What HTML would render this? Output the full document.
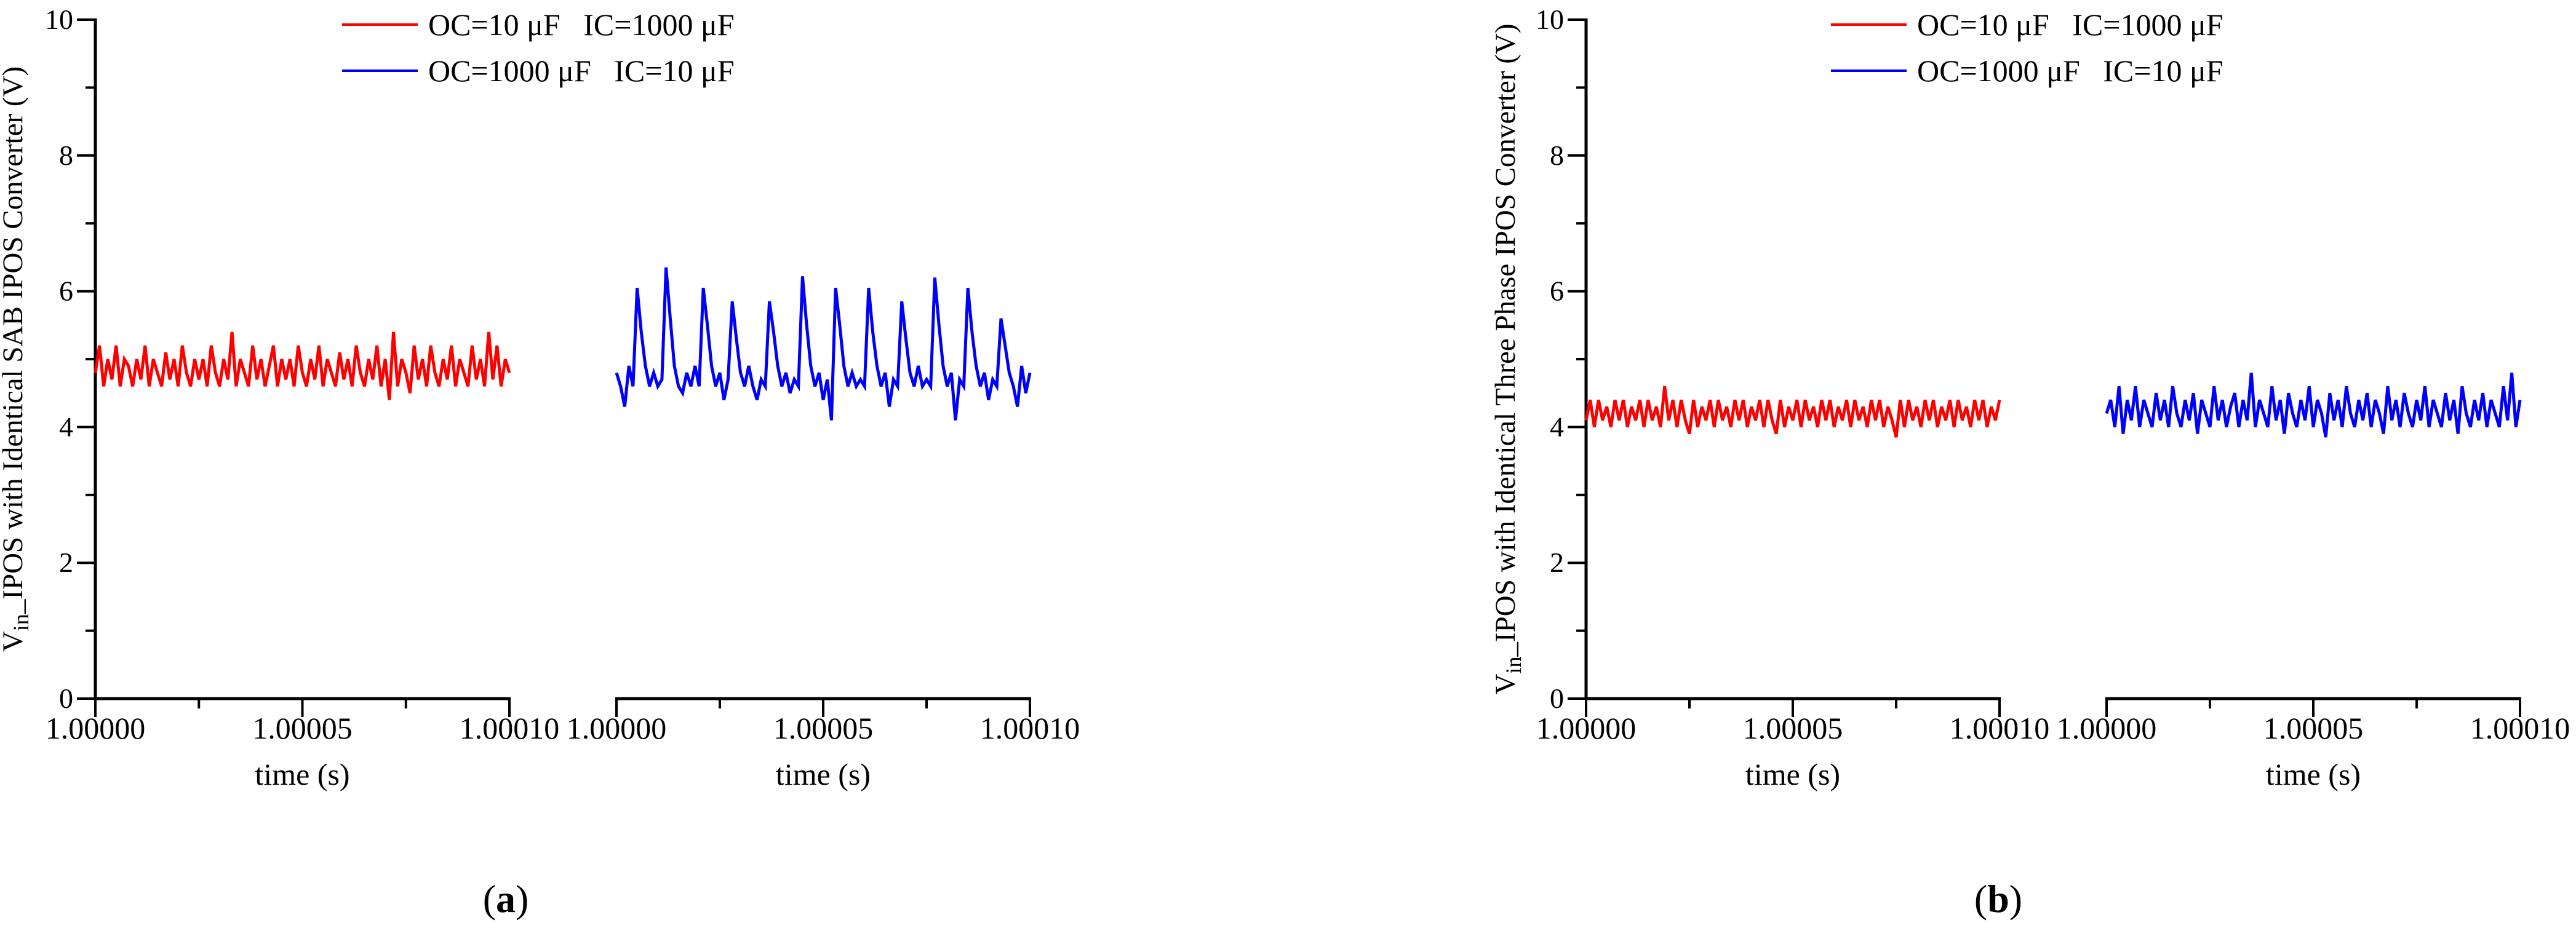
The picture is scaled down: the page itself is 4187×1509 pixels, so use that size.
<!DOCTYPE html>
<html><head><meta charset="utf-8"><style>
html,body{margin:0;padding:0;background:#fff;}
svg{display:block;}
svg text, svg tspan{font-family:"Liberation Serif","DejaVu Serif","Times New Roman",serif !important;white-space:pre;}
</style></head><body>
<svg id="chart" width="4187" height="1509" viewBox="0 0 4187 1509" xmlns="http://www.w3.org/2000/svg" style="font-family:'Liberation Serif','DejaVu Serif',serif"></svg>
<script>
const dtMicro = 1;
const yTicks = [0, 2, 4, 6, 8, 10];
const xTickLabels = ["1.00000", "1.00005", "1.00010"];
const seriesNames = ["OC=10 \u03bcF   IC=1000 \u03bcF", "OC=1000 \u03bcF   IC=10 \u03bcF"];
const redA = [4.8,5.2,4.6,5.0,4.7,5.2,4.6,5.0,4.9,4.6,5.0,4.7,5.2,4.6,5.0,4.8,4.6,5.1,4.7,5.0,
4.6,5.2,4.8,4.6,5.0,4.7,5.0,4.6,5.2,4.8,4.6,5.0,4.7,5.4,4.6,5.0,4.8,4.6,5.2,4.7,
5.0,4.6,4.9,5.2,4.6,5.0,4.7,5.0,4.6,5.2,4.8,4.6,5.0,4.7,5.2,4.6,5.0,4.8,4.6,5.1,
4.7,5.0,4.6,5.2,4.8,4.6,5.0,4.7,5.2,4.6,5.0,4.4,5.4,4.6,5.0,4.8,4.5,5.2,4.7,5.0,
4.6,5.2,4.8,4.6,5.0,4.7,5.2,4.6,5.0,4.8,4.6,5.2,4.7,5.0,4.6,5.4,4.7,5.2,4.6,5.0,4.8];
const blueA = [4.8,4.6,4.3,4.9,4.6,6.05,5.4,4.9,4.6,4.8,4.6,4.7,6.35,5.6,4.9,4.6,4.5,4.8,4.6,4.9,
4.6,6.05,5.5,4.9,4.6,4.8,4.4,4.7,5.85,5.3,4.8,4.6,4.9,4.6,4.4,4.7,4.6,5.85,5.4,4.9,
4.6,4.8,4.5,4.7,4.6,6.22,5.5,4.9,4.6,4.8,4.4,4.7,4.1,6.05,5.5,4.9,4.6,4.8,4.6,4.7,
4.6,6.05,5.4,4.9,4.6,4.8,4.3,4.7,4.6,5.85,5.3,4.8,4.6,4.9,4.6,4.7,4.6,6.2,5.5,4.9,
4.6,4.8,4.1,4.7,4.6,6.05,5.4,4.9,4.6,4.8,4.4,4.7,4.6,5.6,5.2,4.8,4.6,4.3,4.9,4.5,4.8];
const redB = [4.1,4.4,4.0,4.4,4.1,4.3,4.0,4.4,4.1,4.4,4.0,4.3,4.1,4.4,4.0,4.4,4.1,4.3,4.0,4.6,
4.1,4.4,4.0,4.4,4.1,3.9,4.4,4.0,4.3,4.1,4.4,4.0,4.4,4.1,4.3,4.0,4.4,4.1,4.4,4.0,
4.3,4.1,4.4,4.0,4.4,4.1,3.9,4.4,4.0,4.3,4.1,4.4,4.0,4.4,4.1,4.3,4.0,4.4,4.1,4.4,
4.0,4.3,4.1,4.4,4.0,4.4,4.1,4.3,4.0,4.4,4.1,4.4,4.0,4.3,4.1,3.85,4.4,4.0,4.4,4.1,
4.3,4.0,4.4,4.1,4.4,4.0,4.3,4.1,4.4,4.0,4.4,4.1,4.3,4.0,4.4,4.1,4.4,4.0,4.3,4.1,4.4];
const blueB = [4.2,4.4,4.0,4.6,3.9,4.4,4.1,4.6,4.0,4.4,4.2,4.0,4.5,4.1,4.4,4.0,4.6,4.2,4.0,4.4,
4.1,4.5,3.9,4.4,4.2,4.0,4.6,4.1,4.4,4.0,4.3,4.5,4.0,4.4,4.1,4.8,4.0,4.4,4.2,4.0,
4.6,4.1,4.4,3.9,4.5,4.2,4.0,4.4,4.1,4.6,4.0,4.4,4.2,3.85,4.5,4.1,4.4,4.0,4.6,4.2,
4.0,4.4,4.1,4.5,4.0,4.4,4.2,3.9,4.6,4.1,4.4,4.0,4.5,4.2,4.0,4.4,4.1,4.6,4.0,4.4,
4.2,4.0,4.5,4.1,4.4,3.9,4.6,4.2,4.0,4.4,4.1,4.5,4.0,4.4,4.2,4.0,4.6,4.1,4.8,4.0,4.4];

const NS = "http://www.w3.org/2000/svg";
const svg = document.getElementById("chart");
function mk(tag, attrs, parent, text) {
  const e = document.createElementNS(NS, tag);
  for (const k in attrs) e.setAttribute(k, attrs[k]);
  if (tag === "text") e.setAttribute("style", "font-family:'Liberation Serif','DejaVu Serif',serif");
  if (text !== undefined) e.textContent = text;
  (parent || svg).appendChild(e);
  return e;
}
const Y0 = 1136, Y10 = 32;
function yS(v) { return Y0 + (Y10 - Y0) * v / 10; }

function drawPanel(p) {
  const g = mk("g", {});
  
  
  const ya = mk("line", {x1: p.yx, y1: Y10 - 2, x2: p.yx, y2: Y0 + 2, stroke: "#000", "stroke-width": 5}, g);
  
  
  for (let v = 0; v <= 10; v++) {
    const major = v % 2 === 0;
    const t = mk("line", {x1: p.yx - (major ? 30 : 16), x2: p.yx, y1: yS(v), y2: yS(v), stroke: "#000", "stroke-width": 4}, g);
    
    
  }
  yTicks.forEach(v => {
    const t = mk("text", {x: p.yx - 36, y: yS(v) + 15, "text-anchor": "end", "font-size": 46}, g, String(v));
    
    
  });
  const tt = mk("text", {transform: `translate(${p.titleX},584) rotate(-90)`, "text-anchor": "middle", "font-size": 47}, g);
  
  
  mk("tspan", {}, tt, "V");
  mk("tspan", {dy: 10, "font-size": 36}, tt, "in");
  mk("tspan", {dy: -10}, tt, "_IPOS with Identical " + p.conv + " IPOS Converter (V)");

  [[p.s1a, p.s1b, p.d1, "#ff0000", "red-series"], [p.s2a, p.s2b, p.d2, "#0000ff", "blue-series"]].forEach(([xa, xb, data, col, nm]) => {
    const xS = t => xa + (xb - xa) * t / 100;
    const ax = mk("line", {x1: xa - 2, x2: xb + 2, y1: Y0, y2: Y0, stroke: "#000", "stroke-width": 5}, g);
    
    
    for (let i = 0; i <= 4; i++) {
      const major = i % 2 === 0;
      const tk = mk("line", {x1: xS(i * 25), x2: xS(i * 25), y1: Y0, y2: Y0 + (major ? 30 : 16), stroke: "#000", "stroke-width": 4}, g);
      
      
    }
    xTickLabels.forEach((l, i) => {
      const tl = mk("text", {x: xS(i * 50), y: 1201, "text-anchor": "middle", "font-size": 50}, g, l);
      
      
    });
    const xt = mk("text", {x: (xa + xb) / 2, y: 1276, "text-anchor": "middle", "font-size": 50}, g, "time (s)");
    
    
    const pts = data.map((v, i) => xS(i * dtMicro).toFixed(1) + "," + yS(v).toFixed(1));
    const pl = mk("polyline", {points: pts.join(" "), fill: "none", stroke: col, "stroke-width": 5, "stroke-linejoin": "miter"}, g);
    
    
  });

  [["#ff0000", 40], ["#0000ff", 115]].forEach(([col, y], i) => {
    const lg = mk("g", {}, g);
    
    
    mk("line", {x1: p.legX, x2: p.legX + 123, y1: y, y2: y, stroke: col, "stroke-width": 4}, lg);
    mk("text", {x: p.legX + 140, y: y + 17, "font-size": 50}, lg, seriesNames[i]);
  });
  const cap = mk("text", {x: p.capX, y: 1483, "text-anchor": "middle", "font-size": 64}, g);
  
  
  mk("tspan", {}, cap, "(");
  mk("tspan", {"font-weight": "bold"}, cap, p.letter);
  mk("tspan", {}, cap, ")");
}

drawPanel({name: "panel-a", yx: 155, titleX: 36, conv: "SAB", s1a: 155, s1b: 828, s2a: 1002, s2b: 1674, d1: redA, d2: blueA, legX: 556, capX: 822, letter: "a"});
drawPanel({name: "panel-b", yx: 2578, titleX: 2462, conv: "Three Phase", s1a: 2578, s1b: 3250, s2a: 3424, s2b: 4096, d1: redB, d2: blueB, legX: 2976, capX: 3248, letter: "b"});
</script>
</body></html>
